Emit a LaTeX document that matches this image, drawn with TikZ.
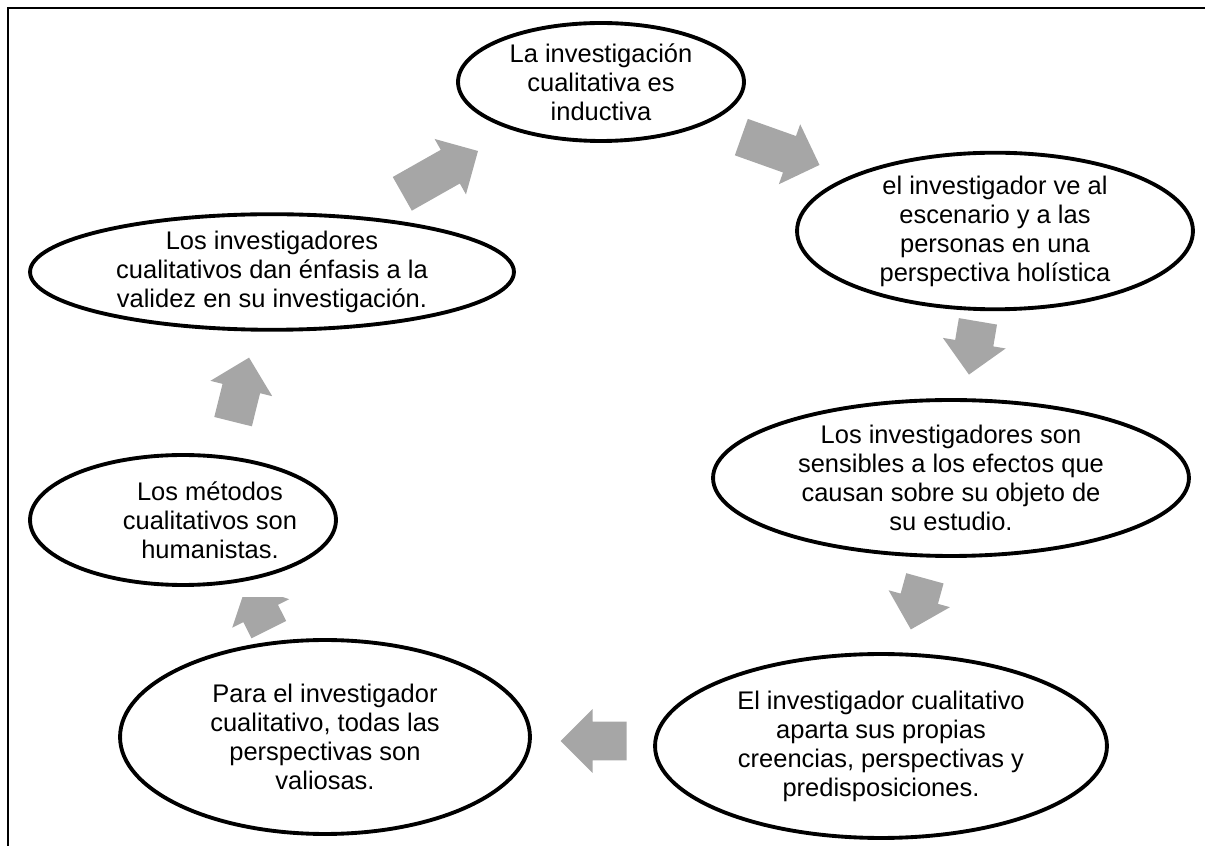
\documentclass[tikz,border=0pt]{standalone}
\usepackage{fontspec}
\setmainfont{Liberation Sans}
\usetikzlibrary{shapes.geometric, shapes.arrows}

\definecolor{arrowgray}{HTML}{A6A6A6}

\begin{document}
\begin{tikzpicture}[
      x=0.02cm, y=0.02cm,
      bubble/.style={ellipse, draw, line width=2.2pt, fill=white, inner sep=0pt,
        align=center, font=\fontsize{14.5pt}{16.5pt}\selectfont},
      blockarrow/.style={single arrow, fill=arrowgray, inner xsep=0pt, inner ysep=0.38cm,
        single arrow head extend=0.25cm, anchor=tail}
  ]
  \useasboundingbox (0,0) rectangle (1205,846);

  % Frame
  \draw[line width=1.6pt] (8,0) -- (8,838) -- (1205,838);

  % Ellipses around the cycle
  \node[bubble, minimum width=5.72cm, minimum height=2.36cm] (inductiva) at (601,764)
    {La investigación\\cualitativa es\\inductiva};
  \node[bubble, minimum width=7.92cm, minimum height=2.68cm] (holistica) at (995,615)
    {el investigador ve al\\escenario y a las\\personas en una\\perspectiva holística};
  \node[bubble, minimum width=9.52cm, minimum height=3.12cm] (sensibles) at (951,368)
    {Los investigadores son\\sensibles a los efectos que\\causan sobre su objeto de\\su estudio.};
  \node[bubble, minimum width=9.04cm, minimum height=3.68cm] (creencias) at (881,100)
    {El investigador cualitativo\\aparta sus propias\\creencias, perspectivas y\\predisposiciones.};
  \node[bubble, minimum width=8.2cm, minimum height=3.88cm] (valiosas) at (325,109)
    {Para el investigador\\cualitativo, todas las\\perspectivas son\\valiosas.};
  \node[bubble, minimum width=6.12cm, minimum height=2.6cm,
    label={[align=center, font=\fontsize{14.5pt}{16.5pt}\selectfont, xshift=0.54cm]center:Los métodos\\cualitativos son\\humanistas.}]
    (humanistas) at (183,326) {};
  \node[bubble, minimum width=9.68cm, minimum height=2.16cm] (validez) at (272,574)
    {Los investigadores\\cualitativos dan énfasis a la\\validez en su investigación.};

  % Block arrows between the ellipses (placed by their tails)
  \node[blockarrow, minimum height=1.66cm, rotate=-19.6] (arrowA) at (741,709) {};
  \node[blockarrow, minimum height=1.08cm, rotate=-99.6] (arrowB) at (978,525) {};
  \node[blockarrow, minimum height=1.06cm, rotate=-105.4] (arrowC) at (925,268) {};
  \node[blockarrow, minimum height=1.32cm, rotate=180] (arrowD) at (627,105) {};
  \begin{scope}
    \clip (200,150) rectangle (320,248);
    \node[blockarrow, minimum height=1.0cm, rotate=116.6] (arrowE) at (269,216) {};
  \end{scope}
  \node[blockarrow, minimum height=1.32cm, rotate=76] (arrowF) at (233,424) {};
  \node[blockarrow, minimum height=1.74cm, rotate=29.5] (arrowG) at (402,652) {};

\end{tikzpicture}
\end{document}
